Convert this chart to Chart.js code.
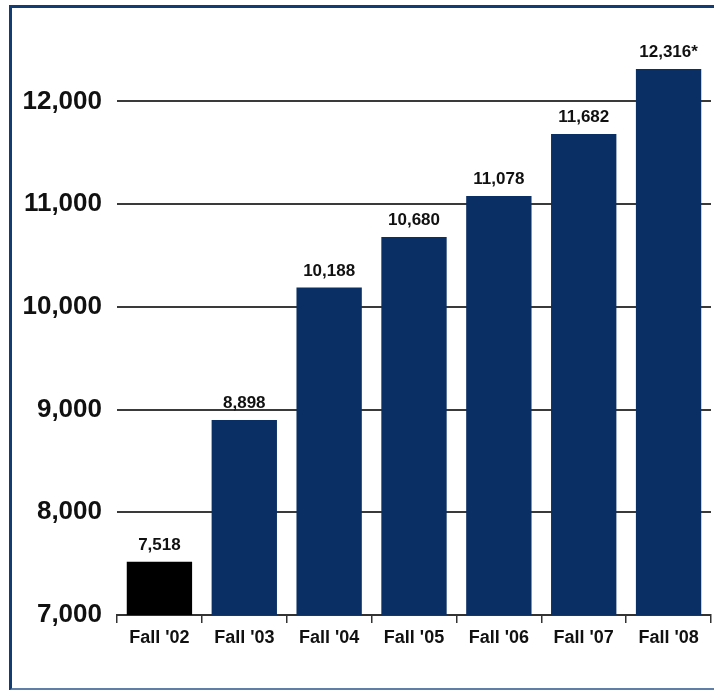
<!DOCTYPE html>
<html>
<head>
<meta charset="utf-8">
<script src="https://cdn.jsdelivr.net/npm/chart.js@4.4.1/dist/chart.umd.min.js"></script>
<style>
  html, body { margin: 0; padding: 0; background: #ffffff; }
  #wrap { position: relative; width: 714px; height: 690px; overflow: hidden; }
  #c { position: absolute; left: 0; top: 0; }
  #frame { position: absolute; left: 9px; top: 5px; width: 720px; height: 680px;
           border: 3px solid #123c72; border-bottom-color: #5f7fa6; border-right: none; pointer-events: none; }
</style>
</head>
<body>
<div id="wrap">
  <canvas id="c" width="714" height="690"></canvas>
  <div id="frame"></div>
</div>
<script>
const categories = ["Fall '02", "Fall '03", "Fall '04", "Fall '05", "Fall '06", "Fall '07", "Fall '08"];
const enrollment = [7518, 8898, 10188, 10680, 11078, 11682, 12316];
const labelSuffix = ["", "", "", "", "", "", "*"];
const barColors = ["#000000", "#0a2f64", "#0a2f64", "#0a2f64", "#0a2f64", "#0a2f64", "#0a2f64"];
const yTickValues = [7000, 8000, 9000, 10000, 11000, 12000];

const FONT = "'Liberation Sans', Arial, sans-serif";

const valueLabels = {
  id: 'valueLabels',
  afterDatasetsDraw(chart) {
    const ctx = chart.ctx;
    const meta = chart.getDatasetMeta(0);
    ctx.save();
    ctx.font = "bold 17px " + FONT;
    ctx.fillStyle = "#111111";
    ctx.textAlign = "center";
    ctx.textBaseline = "bottom";
    meta.data.forEach((bar, i) => {
      const txt = enrollment[i].toLocaleString('en-US') + labelSuffix[i];
      ctx.fillText(txt, bar.x, bar.y - 8);
    });
    ctx.restore();
  }
};

new Chart(document.getElementById('c'), {
  type: 'bar',
  data: {
    labels: categories,
    datasets: [{
      data: enrollment,
      backgroundColor: barColors,
      borderWidth: 0,
      categoryPercentage: 0.77,
      barPercentage: 1.0
    }]
  },
  options: {
    responsive: false,
    animation: false,
    devicePixelRatio: 1,
    layout: { padding: { top: 50, right: 3, left: 0, bottom: 0 } },
    plugins: { legend: { display: false }, tooltip: { enabled: false } },
    scales: {
      x: {
        offset: true,
        afterFit(scale) { scale.height = 75; },
        grid: { drawOnChartArea: false, drawTicks: true, tickLength: 8, color: '#333333', lineWidth: 1.5, offset: true },
        border: { display: true, color: '#333333', width: 2 },
        ticks: { color: '#111111', font: { family: FONT, size: 18, weight: 'bold' }, padding: 4 }
      },
      y: {
        min: 7000,
        max: 12500,
        afterFit(scale) { scale.width = 117; },
        afterBuildTicks(scale) { scale.ticks = yTickValues.map(v => ({ value: v })); },
        grid: { drawTicks: false, color: '#3a3a3a', lineWidth: 2 },
        border: { display: false },
        ticks: {
          color: '#111111',
          font: { family: FONT, size: 26, weight: 'bold' },
          padding: 15,
          callback: v => Number(v).toLocaleString('en-US')
        }
      }
    }
  },
  plugins: [valueLabels]
});
</script>
</body>
</html>
